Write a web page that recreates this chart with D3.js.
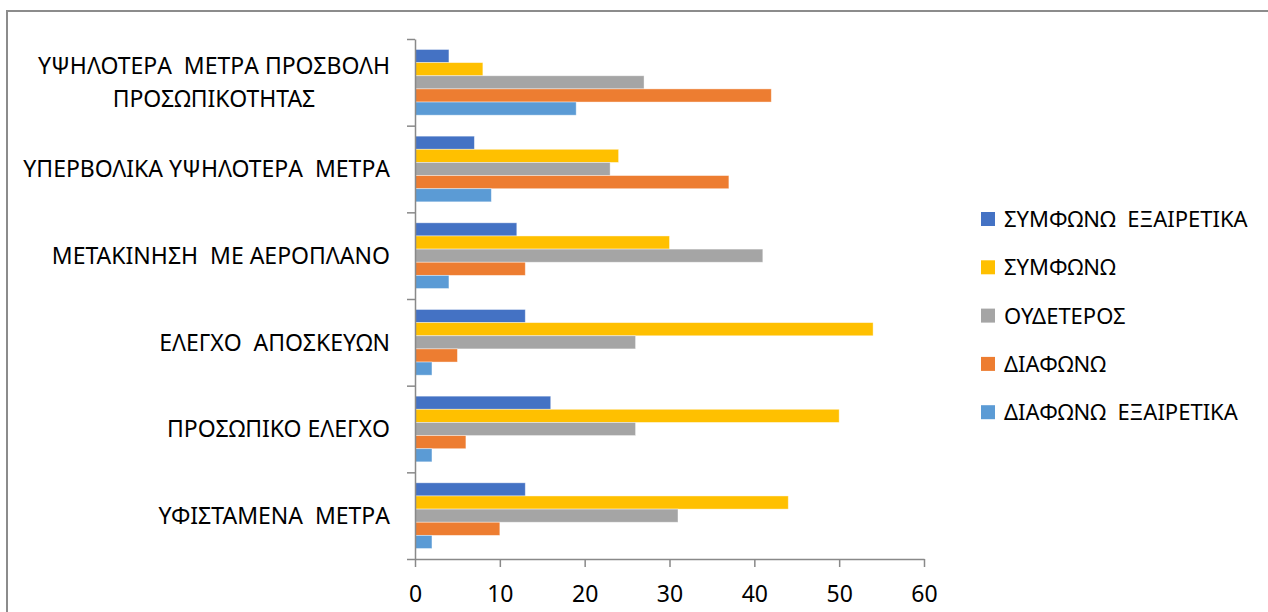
<!DOCTYPE html>
<html>
<head>
<meta charset="utf-8">
<script src="https://cdn.jsdelivr.net/npm/d3@7"></script>
<style>
  body { margin: 0; background: #fff; }
  svg { display: block; font-family: "Noto Sans", "Open Sans", sans-serif; }
  text { white-space: pre; fill: #000; }
</style>
</head>
<body>
<svg id="chart" width="1268" height="612"></svg>
<script>
// categories, top to bottom
const categories = [
  ["ΥΨΗΛΟΤΕΡΑ  ΜΕΤΡΑ ΠΡΟΣΒΟΛΗ", "ΠΡΟΣΩΠΙΚΟΤΗΤΑΣ"],
  ["ΥΠΕΡΒΟΛΙΚΑ ΥΨΗΛΟΤΕΡΑ  ΜΕΤΡΑ"],
  ["ΜΕΤΑΚΙΝΗΣΗ  ΜΕ ΑΕΡΟΠΛΑΝΟ"],
  ["ΕΛΕΓΧΟ  ΑΠΟΣΚΕΥΩΝ"],
  ["ΠΡΟΣΩΠΙΚΟ ΕΛΕΓΧΟ"],
  ["ΥΦΙΣΤΑΜΕΝΑ  ΜΕΤΡΑ"]
];

// series, in bar order inside a group (top to bottom)
const seriesNames = ["ΣΥΜΦΩΝΩ  ΕΞΑΙΡΕΤΙΚΑ", "ΣΥΜΦΩΝΩ", "ΟΥΔΕΤΕΡΟΣ", "ΔΙΑΦΩΝΩ", "ΔΙΑΦΩΝΩ  ΕΞΑΙΡΕΤΙΚΑ"];
const seriesColors = ["#4472C4", "#FFC000", "#A5A5A5", "#ED7D31", "#5B9BD5"];

// values per series, same order as categories
const stronglyAgree = [4, 7, 12, 13, 16, 13];
const agree = [8, 24, 30, 54, 50, 44];
const neutral = [27, 23, 41, 26, 26, 31];
const disagree = [42, 37, 13, 5, 6, 10];
const stronglyDisagree = [19, 9, 4, 2, 2, 2];

const xTicks = [0, 10, 20, 30, 40, 50, 60];

const seriesValues = [stronglyAgree, agree, neutral, disagree, stronglyDisagree];

const svg = d3.select("#chart");
const AXIS_COLOR = "#898989";

// outer chart border (extends past the right and bottom edges)
svg.append("rect")
  .attr("x", 7)
  .attr("y", 11)
  .attr("width", 1400)
  .attr("height", 800)
  .attr("fill", "none")
  .attr("stroke", "#8c8c8c")
  .attr("stroke-width", 2);

const plot = { left: 415, right: 924, top: 39, bottom: 559 };

const x = d3.scaleLinear().domain([0, 60]).range([plot.left, plot.right]);
const catKeys = categories.map((d, i) => i);
const y = d3.scaleBand()
  .domain(catKeys)
  .range([plot.top, plot.bottom])
  .paddingInner(0.242)
  .paddingOuter(0.121);
const ySub = d3.scaleBand()
  .domain(seriesNames)
  .range([0, y.bandwidth()]);

// bars
const groups = svg.append("g")
  .selectAll("g")
  .data(catKeys)
  .join("g")
  .attr("transform", d => `translate(0,${y(d)})`);

groups.selectAll("rect")
  .data(ci => seriesNames.map((s, si) => ({ s, si, v: seriesValues[si][ci] })))
  .join("rect")
  .attr("x", x(0))
  .attr("y", d => ySub(d.s))
  .attr("width", d => x(d.v) - x(0))
  .attr("height", ySub.bandwidth())
  .attr("fill", d => seriesColors[d.si])
  .attr("stroke", "#fff")
  .attr("stroke-opacity", 0.5)
  .attr("stroke-width", 0.8);

// x axis
const xAxis = svg.append("g")
  .attr("transform", `translate(0,${plot.bottom})`)
  .call(d3.axisBottom(x).tickValues(xTicks).tickSizeInner(8).tickSizeOuter(0).tickPadding(19));
xAxis.select(".domain").attr("stroke", AXIS_COLOR).attr("stroke-width", 1.5);
xAxis.selectAll(".tick line").attr("stroke", AXIS_COLOR).attr("stroke-width", 1.5);
xAxis.selectAll(".tick text")
  .attr("font-size", 23)
  .attr("font-family", "Noto Sans, sans-serif")
  .attr("fill", "#000");

// y axis: ticks sit on group boundaries
const yEdges = d3.scaleLinear().domain([0, categories.length]).range([plot.top, plot.bottom]);
const yAxis = svg.append("g")
  .attr("transform", `translate(${plot.left},0)`)
  .call(d3.axisLeft(yEdges).tickValues(d3.range(categories.length + 1)).tickSizeInner(8).tickSizeOuter(0).tickFormat(""));
yAxis.select(".domain").attr("stroke", AXIS_COLOR).attr("stroke-width", 1.5);
yAxis.selectAll(".tick line").attr("stroke", AXIS_COLOR).attr("stroke-width", 1.5);

// category labels
const labelRight = 390;
const lineGap = 33;
const labels = svg.append("g")
  .selectAll("text")
  .data(catKeys)
  .join("text")
  .attr("font-size", 23)
  .attr("text-anchor", "middle");

labels.each(function(ci) {
  const lines = categories[ci];
  const t = d3.select(this);
  const cy = y(ci) + y.bandwidth() / 2;
  lines.forEach((ln, li) => {
    t.append("tspan")
      .attr("y", cy + (li - (lines.length - 1) / 2) * lineGap)
      .attr("dy", "0.36em")
      .text(ln);
  });
  // centre lines on the widest one, right-aligned as a block
  const widths = [];
  t.selectAll("tspan").each(function() { widths.push(this.getComputedTextLength()); });
  const cx = labelRight - d3.max(widths) / 2;
  t.selectAll("tspan").attr("x", cx);
});

// legend
const legend = svg.append("g")
  .selectAll("g")
  .data(seriesNames)
  .join("g")
  .attr("transform", (d, i) => `translate(981,${219 + i * 48.3})`);

legend.append("rect")
  .attr("x", 0)
  .attr("y", -7)
  .attr("width", 14)
  .attr("height", 14)
  .attr("fill", (d, i) => seriesColors[i]);

legend.append("text")
  .attr("x", 23)
  .attr("dy", "0.36em")
  .attr("font-size", 22)
  .text(d => d);
</script>
</body>
</html>
